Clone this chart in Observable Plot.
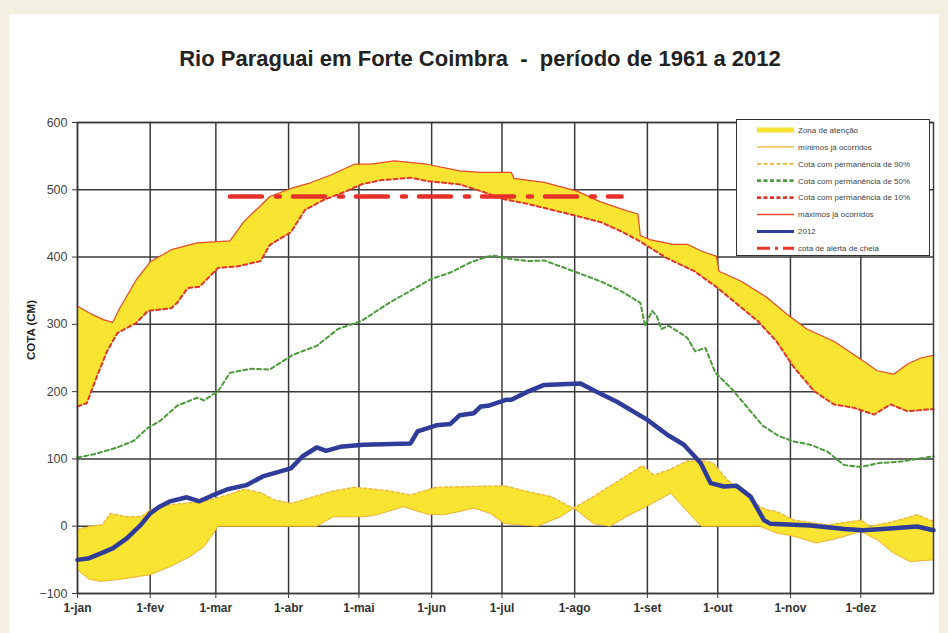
<!DOCTYPE html>
<html><head><meta charset="utf-8">
<script src="https://cdn.jsdelivr.net/npm/d3@7"></script>
<script src="https://cdn.jsdelivr.net/npm/@observablehq/plot@0.6"></script>
<style>
html,body{margin:0;padding:0;background:#f3f0e2;}
#wrap{position:relative;width:948px;height:633px;overflow:hidden;}
#panel{position:absolute;left:9px;top:14px;width:930px;height:619px;background:#fff;}
#title{position:absolute;left:0;width:960px;top:46px;text-align:center;font:bold 22px "Liberation Sans",Arial,sans-serif;color:#222;white-space:pre;}
#chart{position:absolute;left:0;top:90px;}
#ylab{position:absolute;left:31px;top:330px;transform:translate(-50%,-50%) rotate(-90deg);font:bold 11.5px "Liberation Sans",Arial,sans-serif;color:#222;white-space:nowrap;}
#legend{position:absolute;left:736px;top:119px;width:194px;height:137px;border:1.5px solid #333;background:#fff;box-sizing:border-box;}
</style>
</head><body>
<div id="wrap">
  <div id="panel"></div>
  <div id="title"></div>
  <div id="chart"></div>
  <div id="ylab"></div>
  <div id="legend"></div>
</div>
<script>
const titleText = "Rio Paraguai em Forte Coimbra  -  período de 1961 a 2012";
const yLabel = "COTA (CM)";
const monthStarts = [0,31,59,90,120,151,181,212,243,273,304,334];
const monthLabels = ["1-jan","1-fev","1-mar","1-abr","1-mai","1-jun","1-jul","1-ago","1-set","1-out","1-nov","1-dez"];
const yTicks = [-100,0,100,200,300,400,500,600];
const legendLabels = ["Zona de atenção","mínimos já ocorridos","Cota com permanência de 90%","Cota com permanência de 50%","Cota com permanência de 10%","máximos já ocorridos","2012","cota de alerta de cheia"];

// [day of year, cota (cm)]
const maximos = [[0,327],[5.5,316],[11,307],[15,303],[18,324],[25,366],[31,393],[40,411],[51,421],[60,423],[65,424],[71,453],[77,473],[82,490],[91,502],[99,510],[108,522],[118,538],[125,538],[135,543],[149,538],[163,528],[172,526],[185,526],[186,517],[199,511],[213,498],[223,482],[234,469],[239,464],[240,432],[244,426],[254,419],[260,419],[266,409],[272.5,401],[273.5,379],[283,364],[294,340],[302.5,315],[311,293],[322.5,275],[334,248],[341,231],[348,226],[354,241],[359.5,250],[365,254]];
const perm10 = [[0,178],[4,183],[8,220],[12.6,260],[17,287],[25,302],[30,320],[40,324],[42.5,332],[47,354],[52,356],[60,384],[68,386],[78,394],[82,418],[91,437],[97,470],[105,485],[114,497],[121,508],[129,514],[142,518],[149,513],[163,508],[172,498],[182,486],[192,479],[213,461],[223,452],[232,438],[240,423],[251,399],[263,379],[273,354],[283,325],[290,305],[298,275],[305.5,236],[314,201],[322.5,181],[331,176],[339.6,166],[346.7,181],[353.8,171],[365,174]];
const perm50 = [[0,102],[7,107],[13,113],[17,117],[24,127],[30,146],[35,156],[42.5,179],[51,191],[54,187],[60,201],[65,228],[74,234],[82,233],[92,255],[102,268],[111,293],[121,305],[132,330],[142,350],[150.5,367],[159,377],[167.5,392],[175,401],[178,402],[183,398],[192,394],[199,395],[213,377],[223,364],[231.5,350],[240,332],[242,298],[245,320],[247,312],[249,293],[252,298],[258,285],[260,280],[263.4,260],[267.7,265],[272,228],[279,204],[286,175],[292,150],[299,134],[305.5,126],[312.6,121],[319.7,111],[326.8,91],[334,88],[342,94],[351,96],[365,104]];
const perm90 = [[0,-5],[5,-0.5],[10.6,2],[14,19],[21,14],[27,14],[31,24],[39.5,32],[54,37],[64,46.5],[71,55],[78,50],[84,39],[91,34],[99,42],[108,51.5],[118,58],[132,53],[142,46.5],[153,58],[167.5,59],[182,60],[192,51.5],[202,44],[210,29],[211.6,27],[220,44],[230,66],[240.8,90],[245.8,76],[253,85],[260,97],[267,97],[271,94],[277,69],[284,50],[291,29],[294,24],[298,22],[305.5,9],[320,2],[334,9],[338,0],[348,7],[358,17],[365,7]];
const minimos = [[0,-65],[5,-79],[10,-82],[18,-79],[31,-72],[39.5,-60],[48,-45],[54,-30],[60,0],[76.5,0],[102,0],[109,14],[122,14],[127.6,17],[139,29],[149,18],[156,17],[163,22],[169,27],[176,19],[182,4],[196,0],[206,14],[211.6,27],[220,4],[227,0],[234,14],[244,32],[253,49],[260,22],[266,0],[291,0],[298,-10],[305.5,-15],[315,-25],[324,-18],[334,-8],[341,-20],[348,-40],[355,-52.5],[365,-50]];
const ano2012 = [[0,-50],[5,-47.5],[11,-39],[15,-33],[21,-18],[27,2],[31,19],[35,29],[39.5,37],[46.6,43],[52,37],[57,45],[64,55],[72,61],[79,74],[91,86],[96,104],[102,117],[106,112],[112,118],[122,121],[142,123],[145,141],[153,150],[159,152],[163,165],[169,168],[172,178],[175,179],[183,188],[185,188],[192,200],[199,210],[214.5,212],[220,202],[230,185],[243,158],[251.5,136],[258.6,121],[265.7,94],[270,64],[275.6,59],[281,60],[287,44],[292.7,9],[295.5,3.5],[312.6,1],[327,-4],[335,-6],[348,-3],[358,-0.5],[365,-6]];
const alerta = [[65,490],[232,490]];

document.getElementById("title").textContent = titleText;
document.getElementById("ylab").textContent = yLabel;

const upperZone = maximos.concat(perm10.slice().reverse());
const lowerZone = perm90.concat(minimos.slice().reverse());
const X = d => d[0], Y = d => d[1];
const yellow = "#f8e431";
const gridC = "#3a3a3a";
const fmt = new Map(monthStarts.map((m,i)=>[m, monthLabels[i]]));

const chart = Plot.plot({
  width: 948, height: 543,
  marginTop: 32, marginBottom: 40, marginLeft: 77, marginRight: 15,
  style: {background: "transparent", fontFamily: "'Liberation Sans', Arial, sans-serif", color: "#333"},
  x: {domain: [0, 365]},
  y: {domain: [-100, 600]},
  marks: [
    Plot.gridX(monthStarts, {stroke: gridC, strokeOpacity: 1, strokeWidth: 1.5}),
    Plot.gridY(yTicks, {stroke: gridC, strokeOpacity: 1, strokeWidth: 1.5}),
    Plot.line(upperZone, {x: X, y: Y, fill: yellow, stroke: "none"}),
    Plot.line(lowerZone, {x: X, y: Y, fill: yellow, stroke: "none"}),
    Plot.line(minimos, {x: X, y: Y, stroke: "#f0b030", strokeWidth: 1}),
    Plot.line(perm90, {x: X, y: Y, stroke: "#f0b63a", strokeWidth: 1.4, strokeDasharray: "3,2.5"}),
    Plot.line(perm50, {x: X, y: Y, stroke: "#4c9a3c", strokeWidth: 2, strokeDasharray: "4,3"}),
    Plot.line(perm10, {x: X, y: Y, stroke: "#e0352a", strokeWidth: 2, strokeDasharray: "4,3"}),
    Plot.line(maximos, {x: X, y: Y, stroke: "#e84a2a", strokeWidth: 1.2}),
    Plot.line(alerta, {x: X, y: Y, stroke: "#e8302a", strokeWidth: 4.5, strokeDasharray: "32,14,4,13"}),
    Plot.line(ano2012, {x: X, y: Y, stroke: "#2f3c9a", strokeWidth: 4.5, strokeLinejoin: "round", strokeLinecap: "round"}),
    Plot.frame({stroke: gridC, strokeWidth: 1.5}),
    Plot.axisX(monthStarts, {tickFormat: d => fmt.get(d), tickSize: 5, tickPadding: 5, fontSize: 12, fontWeight: "bold", label: null, stroke: gridC, fill: "#333"}),
    Plot.axisY(yTicks, {tickSize: 5, tickPadding: 5, fontSize: 12.5, label: null, stroke: gridC, fill: "#444"})
  ]
});
document.getElementById("chart").appendChild(chart);

// legend
const legendStyles = [
  {stroke: yellow, w: 5, dash: null},
  {stroke: "#f0b030", w: 1.2, dash: null},
  {stroke: "#f0b63a", w: 1.8, dash: "4,2.5"},
  {stroke: "#4c9a3c", w: 2.8, dash: "4,2.5"},
  {stroke: "#e0352a", w: 2.8, dash: "4,2.5"},
  {stroke: "#e84a2a", w: 1.3, dash: null},
  {stroke: "#2f3c9a", w: 3, dash: null},
  {stroke: "#e8302a", w: 3, dash: "13,5,3,5"}
];
let svg = '<svg width="192" height="134" xmlns="http://www.w3.org/2000/svg" style="position:absolute;left:0;top:0">';
legendLabels.forEach((lab, i) => {
  const y = 10 + i * 16.9;
  const s = legendStyles[i];
  svg += `<line x1="20" x2="57" y1="${y}" y2="${y}" stroke="${s.stroke}" stroke-width="${s.w}" ${s.dash ? `stroke-dasharray="${s.dash}"` : ""}/>`;
  svg += `<text x="61" y="${y + 2.8}" font-family="Liberation Sans, Arial, sans-serif" font-size="8" fill="#444">${lab}</text>`;
});
svg += '</svg>';
document.getElementById("legend").innerHTML = svg;
</script>
</body></html>
